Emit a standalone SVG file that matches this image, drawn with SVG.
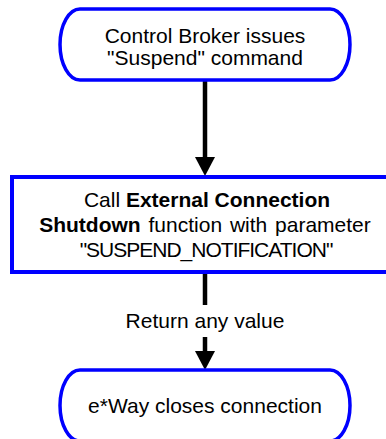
<svg xmlns="http://www.w3.org/2000/svg" width="386" height="439" viewBox="0 0 386 439">
<style>
.term{fill:#fff;stroke:#0000ff;stroke-width:3.5}
.box{fill:#fff;stroke:#0000ff;stroke-width:4}
.t{font-family:"Liberation Sans",Arial,sans-serif;font-size:21px;fill:#000;text-anchor:middle}
.b{font-weight:bold}
.ln{stroke:#000;stroke-width:4.5;fill:none}
.ah{fill:#000}
</style>
<rect width="386" height="439" fill="#fff"/>
<g id="connectors">
<line class="ln" x1="205" y1="81" x2="205" y2="158"/>
<polygon class="ah" points="195,157 215,157 205,176"/>
<line class="ln" x1="205" y1="273" x2="205" y2="305"/>
<text class="t" x="205" y="328">Return any value</text>
<line class="ln" x1="205" y1="337" x2="205" y2="352"/>
<polygon class="ah" points="195,351 215,351 205,370"/>
</g>
<g id="start">
<path class="term" d="M80,9 H330 A20,35.5 0 0 1 330,80 H80 A20,35.5 0 0 1 80,9 Z"/>
<text class="t" x="205" y="43">Control Broker issues</text>
<text class="t" x="205" y="65">"Suspend" command</text>
</g>
<g id="call">
<rect class="box" x="12" y="177" width="386" height="95"/>
<text class="t" x="207" y="207">Call <tspan class="b">External Connection</tspan></text>
<text class="t" x="205" y="232" word-spacing="2"><tspan class="b">Shutdown</tspan> function with parameter</text>
<text class="t" x="206" y="257" letter-spacing="-1">"SUSPEND_NOTIFICATION"</text>
</g>
<g id="end">
<path class="term" d="M80,370 H330 A20,35.5 0 0 1 330,441 H80 A20,35.5 0 0 1 80,370 Z"/>
<text class="t" x="205" y="413">e*Way closes connection</text>
</g>
</svg>
